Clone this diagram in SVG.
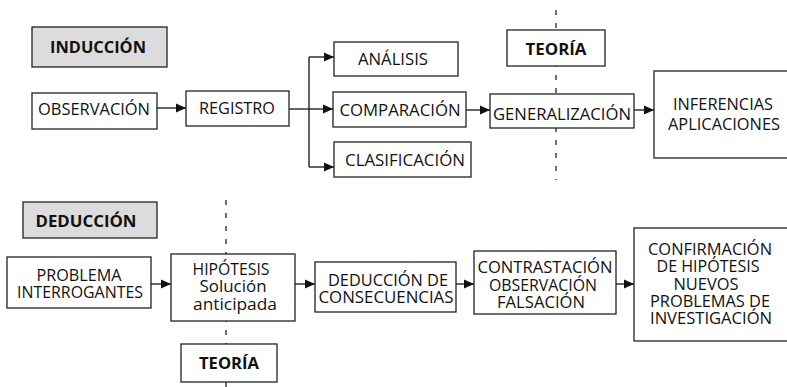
<svg xmlns="http://www.w3.org/2000/svg" width="787" height="387" viewBox="0 0 787 387">
<style>
  .box { fill: #fff; stroke: #222; stroke-width: 1.3; }
  .hdr { fill: #dcdcdc; stroke: #222; stroke-width: 1.3; }
  .t { font-family: "Open Sans", "Noto Sans", sans-serif; font-size: 16px; fill: #111; text-anchor: middle; }
  .b { font-weight: bold; }
  .ln { fill: none; stroke: #111; stroke-width: 1.3; }
  .arr { fill: none; stroke: #111; stroke-width: 1.3; marker-end: url(#ah); }
  .dash { fill: none; stroke: #222; stroke-width: 1.3; stroke-dasharray: 5 8; }
</style>
<defs>
  <marker id="ah" markerUnits="userSpaceOnUse" markerWidth="10" markerHeight="10" refX="10" refY="5" orient="auto">
    <path d="M0,0.5 L10,5 L0,9.5 z" fill="#111"/>
  </marker>
</defs>
<rect width="787" height="387" fill="#fff"/>

<g id="connectors">
  <line class="dash" x1="556" y1="10" x2="556" y2="180"/>
  <line class="dash" x1="226" y1="200" x2="226" y2="387"/>
  <line class="arr" x1="157" y1="108" x2="186" y2="108"/>
  <polyline class="ln" points="289,109 309,109"/>
  <line class="ln" x1="309" y1="57" x2="309" y2="167"/>
  <line class="arr" x1="309" y1="57" x2="334" y2="57"/>
  <line class="arr" x1="309" y1="109" x2="333" y2="109"/>
  <line class="arr" x1="309" y1="167" x2="334" y2="167"/>
  <line class="arr" x1="466" y1="110" x2="490" y2="110"/>
  <line class="arr" x1="634" y1="110" x2="654" y2="110"/>
  <line class="arr" x1="151" y1="284" x2="171" y2="284"/>
  <line class="arr" x1="295" y1="284" x2="315" y2="284"/>
  <line class="arr" x1="456" y1="284" x2="474" y2="284"/>
  <line class="arr" x1="616" y1="284" x2="634" y2="284"/>
</g>

<g id="induccion">
  <rect class="hdr" x="32" y="27" width="135" height="40"/>
  <text class="t b" x="98" y="53" textLength="96" lengthAdjust="spacingAndGlyphs">INDUCCIÓN</text>
</g>
<g id="observacion">
  <rect class="box" x="32" y="93" width="125" height="36"/>
  <text class="t" x="94" y="115" textLength="112" lengthAdjust="spacingAndGlyphs">OBSERVACIÓN</text>
</g>
<g id="registro">
  <rect class="box" x="186" y="91" width="103" height="35"/>
  <text class="t" x="237" y="114" textLength="76" lengthAdjust="spacingAndGlyphs">REGISTRO</text>
</g>
<g id="analisis">
  <rect class="box" x="334" y="42" width="124" height="34"/>
  <text class="t" x="393" y="65" textLength="70" lengthAdjust="spacingAndGlyphs">ANÁLISIS</text>
</g>
<g id="comparacion">
  <rect class="box" x="333" y="92" width="133" height="35"/>
  <text class="t" x="400" y="116" textLength="121" lengthAdjust="spacingAndGlyphs">COMPARACIÓN</text>
</g>
<g id="clasificacion">
  <rect class="box" x="334" y="142" width="137" height="35"/>
  <text class="t" x="405" y="166" textLength="120" lengthAdjust="spacingAndGlyphs">CLASIFICACIÓN</text>
</g>
<g id="teoria1">
  <rect class="box" x="507" y="30" width="98" height="36"/>
  <text class="t b" x="556" y="55" textLength="61" lengthAdjust="spacingAndGlyphs">TEORÍA</text>
</g>
<g id="generalizacion">
  <rect class="box" x="490" y="94" width="144" height="34"/>
  <text class="t" x="562" y="120" textLength="138" lengthAdjust="spacingAndGlyphs">GENERALIZACIÓN</text>
</g>
<g id="inferencias">
  <rect class="box" x="654" y="71" width="140" height="87"/>
  <text class="t" x="723" y="110" textLength="100" lengthAdjust="spacingAndGlyphs">INFERENCIAS</text>
  <text class="t" x="724" y="130" textLength="112" lengthAdjust="spacingAndGlyphs">APLICACIONES</text>
</g>

<g id="deduccion">
  <rect class="hdr" x="23" y="202" width="134" height="36"/>
  <text class="t b" x="86" y="227" textLength="101" lengthAdjust="spacingAndGlyphs">DEDUCCIÓN</text>
</g>
<g id="problema">
  <rect class="box" x="7" y="257" width="144" height="51"/>
  <text class="t" x="79" y="281" textLength="85" lengthAdjust="spacingAndGlyphs">PROBLEMA</text>
  <text class="t" x="80" y="298" textLength="126" lengthAdjust="spacingAndGlyphs">INTERROGANTES</text>
</g>
<g id="hipotesis">
  <rect class="box" x="171" y="254" width="124" height="67"/>
  <text class="t" x="231" y="275" textLength="77" lengthAdjust="spacingAndGlyphs">HIPÓTESIS</text>
  <text class="t" x="233" y="292" textLength="67" lengthAdjust="spacingAndGlyphs">Solución</text>
  <text class="t" x="235" y="310" textLength="84" lengthAdjust="spacingAndGlyphs">anticipada</text>
</g>
<g id="teoria2">
  <rect class="box" x="181" y="344" width="96" height="38"/>
  <text class="t b" x="229" y="369" textLength="60" lengthAdjust="spacingAndGlyphs">TEORÍA</text>
</g>
<g id="consecuencias">
  <rect class="box" x="315" y="262" width="141" height="50"/>
  <text class="t" x="388" y="286" textLength="120" lengthAdjust="spacingAndGlyphs">DEDUCCIÓN DE</text>
  <text class="t" x="386" y="303" textLength="135" lengthAdjust="spacingAndGlyphs">CONSECUENCIAS</text>
</g>
<g id="contrastacion">
  <rect class="box" x="474" y="251" width="142" height="63"/>
  <text class="t" x="545" y="273" textLength="135" lengthAdjust="spacingAndGlyphs">CONTRASTACIÓN</text>
  <text class="t" x="543" y="291" textLength="108" lengthAdjust="spacingAndGlyphs">OBSERVACIÓN</text>
  <text class="t" x="541" y="308" textLength="88" lengthAdjust="spacingAndGlyphs">FALSACIÓN</text>
</g>
<g id="confirmacion">
  <rect class="box" x="634" y="228" width="160" height="113"/>
  <text class="t" x="710" y="255" textLength="124" lengthAdjust="spacingAndGlyphs">CONFIRMACIÓN</text>
  <text class="t" x="708" y="272" textLength="103" lengthAdjust="spacingAndGlyphs">DE HIPÓTESIS</text>
  <text class="t" x="706" y="290" textLength="65" lengthAdjust="spacingAndGlyphs">NUEVOS</text>
  <text class="t" x="710" y="307" textLength="120" lengthAdjust="spacingAndGlyphs">PROBLEMAS DE</text>
  <text class="t" x="711" y="324" textLength="122" lengthAdjust="spacingAndGlyphs">INVESTIGACIÓN</text>
</g>
</svg>
